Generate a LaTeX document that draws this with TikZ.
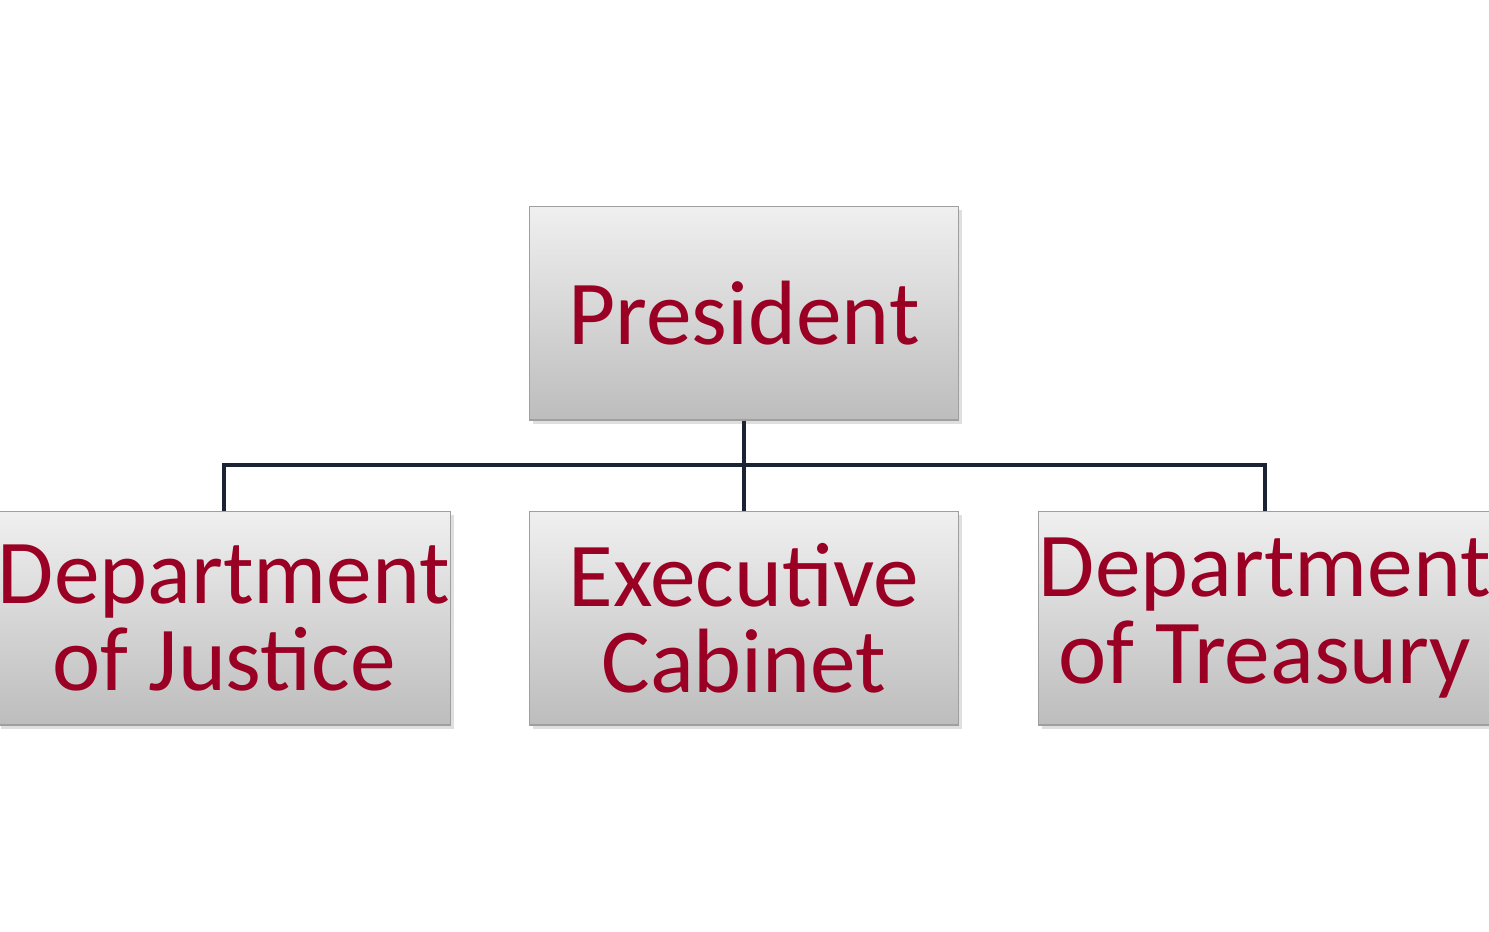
\documentclass[tikz,border=0pt]{standalone}
\usepackage{fontspec}
\setmainfont{Carlito}
\usetikzlibrary{shadows}
\definecolor{txtred}{HTML}{990024}
\definecolor{linecol}{HTML}{1C2433}
\begin{document}
\begin{tikzpicture}[x=0.02cm,y=-0.02cm,
  box/.style={draw=gray!75,line width=0.6pt,top color=black!6,bottom color=black!26,
    minimum width=8.6cm,minimum height=4.28cm,inner sep=0pt,align=center,
    text=txtred,font=\fontsize{52}{49}\selectfont,
    drop shadow={shadow xshift=2pt,shadow yshift=-2pt,opacity=0.25}},
  conn/.style={draw=linecol,line width=2.2pt}]
\useasboundingbox (0,0) rectangle (1489,931);
\node[box] (pres) at (744,313) {President};
\node[box] (doj) at (224,618) {Department\\of Justice};
\node[box] (exec) at (744,618) {Executive\\Cabinet};
\node[box] (dot) at (1265,618) {Department\\of Treasury};
\coordinate (hl) at (224,465);
\coordinate (hr) at (1265,465);
\coordinate (hm) at (744,465);
\begin{scope}[on background layer/.style={}]
\draw[conn] (pres.south) -- (exec.north);
\draw[conn] (doj.north) -- (hl) -- (hr) -- (dot.north);
\end{scope}
\end{tikzpicture}
\end{document}
